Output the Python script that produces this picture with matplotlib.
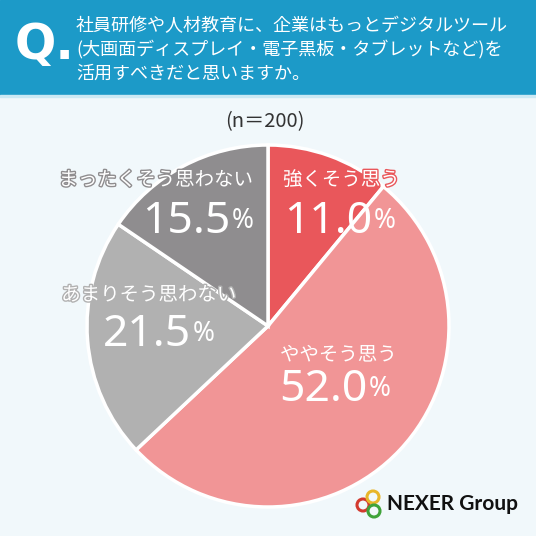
import matplotlib.pyplot as plt
import matplotlib.patheffects as pe
from matplotlib.patches import Rectangle, Circle

plt.rcParams['font.family'] = ['Noto Sans CJK JP', 'DejaVu Sans']

# data
labels = ["強くそう思う", "ややそう思う", "あまりそう思わない", "まったくそう思わない"]
values = [11.0, 52.0, 21.5, 15.5]
colors = ["#E9575B", "#F19596", "#B1B1B1", "#8F8D8F"]
question = "社員研修や人材教育に、企業はもっとデジタルツール\n(大画面ディスプレイ・電子黒板・タブレットなど)を\n活用すべきだと思いますか。"
n_text = "(n＝200)"

W = 536
fig = plt.figure(figsize=(5.36, 5.36), dpi=100)
fig.patch.set_facecolor("#F1F8FB")
ax = fig.add_axes([0, 0, 1, 1])
ax.set_xlim(0, W)
ax.set_ylim(0, W)
ax.set_aspect("equal")
ax.axis("off")


def Y(y):
    return W - y


# header band
ax.add_patch(Rectangle((0, Y(95)), W, 95, color="#1C9AC8", zorder=1))
ax.add_patch(Rectangle((0, Y(97)), W, 2, color="#CBE9F4", zorder=1))
ax.text(15, Y(45), "Q.", color="white", fontsize=35, fontweight="bold",
        ha="left", va="center", zorder=2, fontfamily=["DejaVu Sans"])
ax.text(76, Y(50), question, color="white", fontsize=13, ha="left",
        va="center", linespacing=1.38, zorder=2)

ax.text(265, Y(122), n_text, color="#333333", fontsize=14.5,
        ha="center", va="center")

# pie
wedges, _ = ax.pie(values, colors=colors, startangle=90, counterclock=False,
                   center=(268, Y(326)), radius=181,
                   wedgeprops=dict(edgecolor="white", linewidth=2.5))
ax.set_xlim(0, W)
ax.set_ylim(0, W)

# label positions (label x, label y, align, number x, number y)
pos = [
    (283, 180, "left", 284, 222),
    (280, 355, "left", 279, 390),
    (149, 295, "center", 103, 335),
    (156, 180, "center", 142, 222),
]
for lab, val, col, (lx, ly, ha, nx, ny) in zip(labels, values, colors, pos):
    stroke = [pe.withStroke(linewidth=2, foreground=col)]
    ax.text(lx, Y(ly), lab, color="white", fontsize=14, ha=ha, va="center",
            path_effects=stroke, zorder=5)
    t = ax.text(nx, Y(ny), f"{val:.1f}", color="white", fontsize=32,
                ha="left", va="center",
                fontfamily=["Noto Sans", "DejaVu Sans"], zorder=5)
    ax.annotate("%", xy=(1, 0.2), xycoords=t, xytext=(1, 0),
                textcoords="offset points", color="white", fontsize=19,
                ha="left", va="bottom",
                fontfamily=["Noto Sans", "DejaVu Sans"], zorder=5)

# logo
for cx, cy, c in [(363, 505, "#D33A2F"), (373, 497, "#E8B62A"), (374, 511, "#3FA33A")]:
    ax.add_patch(Circle((cx, Y(cy)), 6, fill=False, edgecolor=c,
                        linewidth=2.2, zorder=6))
ax.text(387, Y(504), "NEXER Group", color="#111111", fontsize=15,
        fontweight="bold", ha="left", va="center",
        fontfamily=["Lato", "DejaVu Sans"], zorder=6)

fig.savefig("out.png", dpi=100, facecolor=fig.get_facecolor())
